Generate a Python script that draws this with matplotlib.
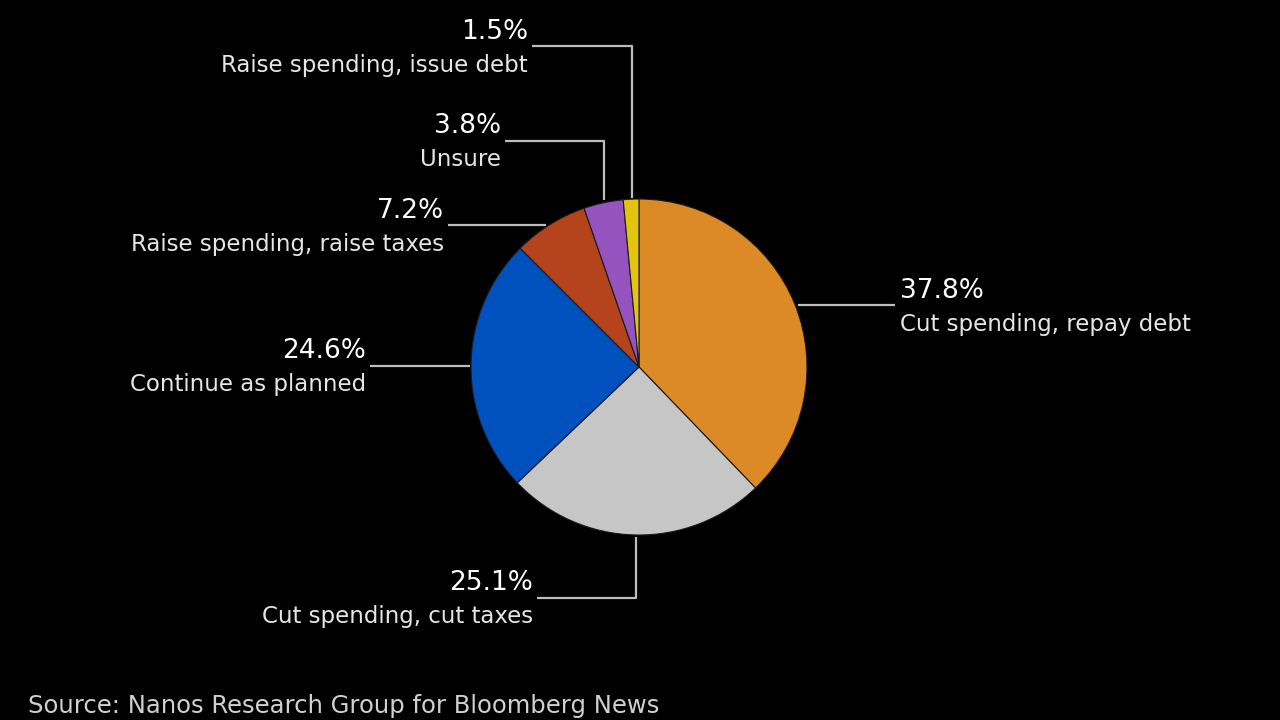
import matplotlib
matplotlib.use('Agg')
import matplotlib.pyplot as plt

plt.rcParams['font.family'] = ['DejaVu Sans']

categories = [
    'Cut spending, repay debt',
    'Cut spending, cut taxes',
    'Continue as planned',
    'Raise spending, raise taxes',
    'Unsure',
    'Raise spending, issue debt',
]
shares = [37.8, 25.1, 24.6, 7.2, 3.8, 1.5]
source = 'Source: Nanos Research Group for Bloomberg News'

colors = ['#DB8A26', '#C6C6C6', '#0050BE', '#B5431C', '#9553C0', '#E3C40F']

# layout in image pixel coords (y measured from top)
H = 720
CENTER = (639, H - 367)
RADIUS = 168
# (text x, percent baseline y, ha, leader polyline)
layout = [
    (900, 298, 'left', [(798, 305), (895, 305)]),
    (533, 590, 'right', [(537, 598), (636, 598), (636, 537)]),
    (366, 358, 'right', [(370, 366), (470, 366)]),
    (444, 218, 'right', [(448, 225), (546, 225)]),
    (501, 133, 'right', [(505, 141), (604, 141), (604, 200)]),
    (528, 39, 'right', [(532, 46), (632, 46), (632, 198)]),
]
LINE_COLOR = '#BDBDBD'
TEXT_COLOR = '#E6E6E6'

fig = plt.figure(figsize=(12.8, 7.2), dpi=100, facecolor='black')
ax = fig.add_axes([0, 0, 1, 1])
ax.set_facecolor('black')

ax.pie(shares, colors=colors, startangle=90, counterclock=False,
       center=CENTER, radius=RADIUS,
       wedgeprops=dict(edgecolor='#1a1a1a', linewidth=0.8), frame=True)
ax.set_xlim(0, 1280)
ax.set_ylim(0, H)
ax.set_aspect('equal')
ax.axis('off')

for name, val, (tx, ty, ha, pts) in zip(categories, shares, layout):
    xs = [p[0] for p in pts]
    ys = [H - p[1] for p in pts]
    ax.plot(xs, ys, color=LINE_COLOR, lw=1.6, solid_capstyle='butt')
    ax.text(tx, H - ty, f'{val}%', ha=ha, va='baseline',
            fontsize=19, color='white')
    ax.text(tx, H - ty - 33, name, ha=ha, va='baseline',
            fontsize=16.5, color=TEXT_COLOR)

ax.text(28, H - 713, source, ha='left', va='baseline',
        fontsize=17.5, color='#D0D0D0')

fig.savefig('out.png', dpi=100, facecolor='black')
